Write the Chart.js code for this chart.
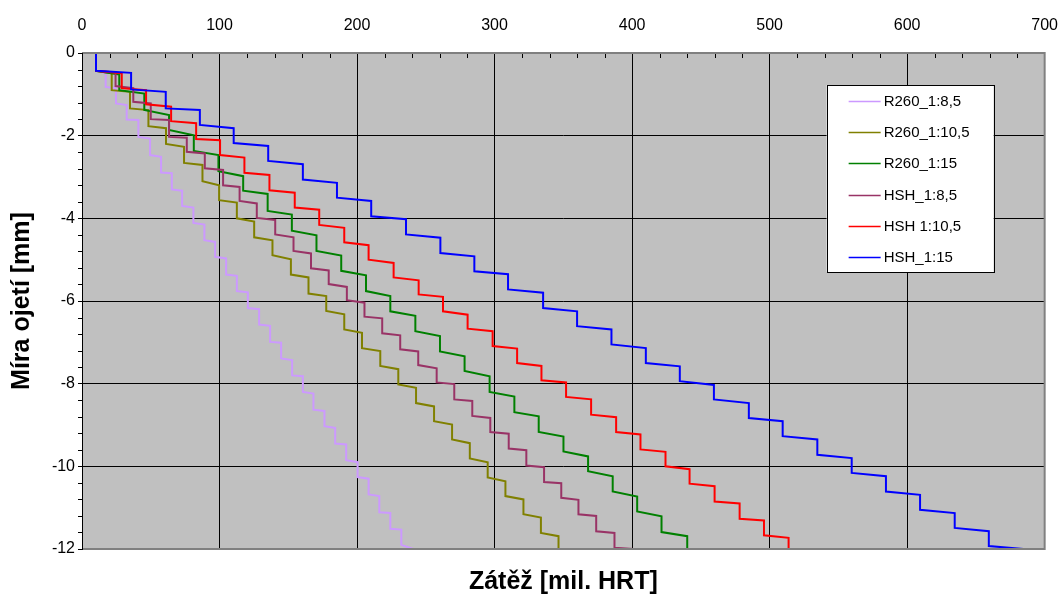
<!DOCTYPE html>
<html>
<head>
<meta charset="utf-8">
<script src="https://cdn.jsdelivr.net/npm/chart.js@4.4.0/dist/chart.umd.min.js"></script>
<style>
  html, body { margin: 0; padding: 0; background: #fff; }
</style>
</head>
<body>
<canvas id="chart" width="1060" height="597"></canvas>
<script>
// wear curves, [load (mil. HRT), wear (mm)] at each step corner
const r260_85 = [[0,0],[10.2,0],[10.2,-0.43],[17.2,-0.49],[17.2,-0.82],[24.7,-0.85],[24.7,-1.22],[32.5,-1.26],[32.5,-1.61],[41.0,-1.62],[41.0,-2.03],[49.5,-2.07],[49.5,-2.47],[57.5,-2.51],[57.5,-2.89],[65.3,-2.91],[65.3,-3.30],[72.8,-3.33],[72.8,-3.70],[81.0,-3.74],[81.0,-4.11],[89.0,-4.15],[89.0,-4.53],[96.8,-4.57],[96.8,-4.93],[104.8,-4.97],[104.8,-5.36],[112.6,-5.39],[112.6,-5.76],[120.6,-5.79],[120.6,-6.17],[128.8,-6.20],[128.8,-6.57],[136.8,-6.60],[136.8,-6.99],[144.8,-7.01],[144.8,-7.39],[152.8,-7.43],[152.8,-7.80],[160.6,-7.82],[160.6,-8.20],[168.3,-8.24],[168.3,-8.63],[176.3,-8.66],[176.3,-9.03],[184.1,-9.07],[184.1,-9.45],[192.1,-9.47],[192.1,-9.85],[200.4,-9.90],[200.4,-10.26],[208.4,-10.30],[208.4,-10.68],[216.2,-10.72],[216.2,-11.11],[224.2,-11.13],[224.2,-11.51],[232.2,-11.53],[232.2,-11.90],[240.9,-12.0]];

const r260_105 = [[0,0],[10.2,0],[10.2,-0.43],[21.6,-0.49],[21.6,-0.90],[34.9,-0.94],[34.9,-1.34],[48.3,-1.38],[48.3,-1.77],[61.1,-1.82],[61.1,-2.20],[74.2,-2.27],[74.2,-2.66],[87.6,-2.71],[87.6,-3.10],[99.7,-3.20],[99.7,-3.56],[112.6,-3.62],[112.6,-4.00],[125.2,-4.08],[125.2,-4.46],[138.5,-4.53],[138.5,-4.89],[151.9,-4.99],[151.9,-5.36],[164.7,-5.43],[164.7,-5.82],[177.6,-5.88],[177.6,-6.24],[190.7,-6.32],[190.7,-6.69],[203.6,-6.77],[203.6,-7.14],[216.9,-7.21],[216.9,-7.57],[230.0,-7.65],[230.0,-8.02],[242.9,-8.10],[242.9,-8.47],[256.0,-8.55],[256.0,-8.91],[269.1,-8.99],[269.1,-9.35],[282.0,-9.44],[282.0,-9.81],[295.0,-9.90],[295.0,-10.27],[307.9,-10.36],[307.9,-10.72],[321.0,-10.80],[321.0,-11.16],[333.7,-11.24],[333.7,-11.61],[346.5,-11.69],[346.5,-12.0]];

const r260_15 = [[0,0],[10.2,0],[10.2,-0.43],[27.1,-0.52],[27.1,-0.90],[45.3,-0.98],[45.3,-1.38],[63.3,-1.50],[63.3,-1.86],[81.3,-1.99],[81.3,-2.37],[99.2,-2.47],[99.2,-2.86],[117.2,-2.98],[117.2,-3.33],[135.0,-3.41],[135.0,-3.82],[152.6,-3.91],[152.6,-4.30],[170.5,-4.41],[170.5,-4.79],[188.5,-4.90],[188.5,-5.27],[206.5,-5.38],[206.5,-5.76],[224.2,-5.88],[224.2,-6.25],[242.4,-6.36],[242.4,-6.73],[260.3,-6.85],[260.3,-7.22],[278.2,-7.34],[278.2,-7.69],[296.4,-7.82],[296.4,-8.20],[314.4,-8.31],[314.4,-8.69],[332.1,-8.79],[332.1,-9.17],[350.1,-9.28],[350.1,-9.64],[368.0,-9.76],[368.0,-10.12],[385.9,-10.24],[385.9,-10.61],[403.7,-10.73],[403.7,-11.09],[421.4,-11.21],[421.4,-11.59],[440.1,-11.69],[440.1,-12.0]];

const hsh_85 = [[0,0],[10.2,0],[10.2,-0.43],[24.4,-0.47],[24.4,-0.80],[37.3,-0.85],[37.3,-1.18],[50.0,-1.22],[50.0,-1.60],[63.3,-1.62],[63.3,-2.03],[76.2,-2.05],[76.2,-2.39],[89.3,-2.43],[89.3,-2.79],[102.6,-2.83],[102.6,-3.20],[114.6,-3.24],[114.6,-3.58],[127.1,-3.64],[127.1,-3.99],[140.5,-4.04],[140.5,-4.39],[153.8,-4.46],[153.8,-4.79],[166.5,-4.85],[166.5,-5.21],[179.4,-5.26],[179.4,-5.59],[192.6,-5.66],[192.6,-5.98],[205.4,-6.04],[205.4,-6.38],[218.3,-6.42],[218.3,-6.78],[231.4,-6.83],[231.4,-7.17],[244.5,-7.22],[244.5,-7.55],[257.9,-7.63],[257.9,-7.97],[270.7,-8.01],[270.7,-8.38],[283.8,-8.42],[283.8,-8.78],[296.9,-8.83],[296.9,-9.17],[310.3,-9.21],[310.3,-9.57],[323.1,-9.61],[323.1,-9.98],[336.0,-10.02],[336.0,-10.38],[348.5,-10.41],[348.5,-10.76],[361.0,-10.81],[361.0,-11.16],[373.9,-11.20],[373.9,-11.57],[387.2,-11.61],[387.2,-11.97],[401.0,-12.0]];

const hsh_105 = [[0,0],[10.2,0],[10.2,-0.43],[28.9,-0.49],[28.9,-0.85],[46.6,-0.90],[46.6,-1.24],[64.8,-1.30],[64.8,-1.65],[83.0,-1.70],[83.0,-2.08],[100.4,-2.11],[100.4,-2.47],[118.1,-2.53],[118.1,-2.90],[136.3,-2.95],[136.3,-3.32],[154.7,-3.38],[154.7,-3.74],[172.5,-3.79],[172.5,-4.16],[190.7,-4.23],[190.7,-4.58],[208.4,-4.65],[208.4,-5.00],[226.6,-5.08],[226.6,-5.43],[244.8,-5.50],[244.8,-5.84],[262.5,-5.90],[262.5,-6.25],[280.4,-6.33],[280.4,-6.67],[298.6,-6.73],[298.6,-7.09],[316.4,-7.15],[316.4,-7.50],[334.1,-7.57],[334.1,-7.92],[352.0,-7.97],[352.0,-8.32],[370.2,-8.38],[370.2,-8.75],[388.4,-8.81],[388.4,-9.17],[406.1,-9.23],[406.1,-9.59],[424.3,-9.65],[424.3,-10.00],[441.8,-10.07],[441.8,-10.42],[460.0,-10.48],[460.0,-10.85],[478.2,-10.90],[478.2,-11.27],[495.9,-11.31],[495.9,-11.67],[513.8,-11.73],[513.8,-12.0]];

const hsh_15 = [[0,0],[10.2,0],[10.2,-0.43],[35.7,-0.48],[35.7,-0.88],[60.9,-0.94],[60.9,-1.34],[85.7,-1.38],[85.7,-1.74],[110.3,-1.82],[110.3,-2.18],[135.4,-2.25],[135.4,-2.61],[160.6,-2.69],[160.6,-3.06],[185.4,-3.14],[185.4,-3.50],[210.3,-3.58],[210.3,-3.95],[235.6,-4.02],[235.6,-4.39],[260.6,-4.47],[260.6,-4.84],[285.3,-4.92],[285.3,-5.28],[309.8,-5.35],[309.8,-5.72],[335.3,-5.80],[335.3,-6.17],[360.0,-6.25],[360.0,-6.61],[385.0,-6.69],[385.0,-7.05],[410.0,-7.14],[410.0,-7.50],[434.7,-7.58],[434.7,-7.94],[459.5,-8.03],[459.5,-8.38],[484.9,-8.47],[484.9,-8.83],[509.5,-8.91],[509.5,-9.27],[534.7,-9.35],[534.7,-9.72],[559.7,-9.80],[559.7,-10.16],[584.6,-10.24],[584.6,-10.61],[609.4,-10.69],[609.4,-11.05],[634.6,-11.13],[634.6,-11.49],[659.4,-11.57],[659.4,-11.93],[684.6,-12.0]];

const seriesNames = ["R260_1:8,5", "R260_1:10,5", "R260_1:15", "HSH_1:8,5", "HSH 1:10,5", "HSH_1:15"];
const seriesData = [r260_85, r260_105, r260_15, hsh_85, hsh_105, hsh_15];
const seriesColors = ["#cc99ff", "#808000", "#008000", "#993366", "#ff0000", "#0000ff"];

const xTitle = "Zátěž [mil. HRT]";
const yTitle = "Míra ojetí [mm]";

const FONT = "Arial, 'Liberation Sans', sans-serif";

// grey plot area
const plotBg = {
    id: "plotBg",
    beforeDraw(chart) {
        const { ctx, chartArea: a } = chart;
        ctx.save();
        ctx.fillStyle = "#c0c0c0";
        ctx.fillRect(a.left, a.top, a.right - a.left, a.bottom - a.top);
        ctx.restore();
    }
};

// minor ticks + frame
const minorTicks = {
    id: "minorTicks",
    afterDatasetsDraw(chart) {
        const { ctx, chartArea: a, scales: { x, y } } = chart;
        ctx.save();
        ctx.strokeStyle = "#000";
        ctx.lineWidth = 1;
        ctx.beginPath();
        for (let i = 1; i < 35; i++) {
            if (i % 5 === 0) continue;
            const px = Math.round(x.getPixelForValue(i * 20)) + 0.5;
            ctx.moveTo(px, a.top);
            ctx.lineTo(px, a.top + 5);
        }
        for (let i = 1; i < 30; i++) {
            if (i % 5 === 0) continue;
            const py = Math.round(y.getPixelForValue(-0.4 * i)) + 0.5;
            ctx.moveTo(a.left - 4, py);
            ctx.lineTo(a.left, py);
        }
        ctx.stroke();

        ctx.strokeStyle = "#808080";
        ctx.lineWidth = 2;
        ctx.beginPath();
        ctx.moveTo(a.left, a.top);
        ctx.lineTo(a.right, a.top);
        ctx.lineTo(a.right, a.bottom);
        ctx.lineTo(a.left, a.bottom);
        ctx.stroke();
        ctx.strokeStyle = "#000";
        ctx.lineWidth = 1;
        ctx.beginPath();
        ctx.moveTo(Math.round(a.left) + 0.5, a.top);
        ctx.lineTo(Math.round(a.left) + 0.5, a.bottom + 1);
        ctx.stroke();
        ctx.restore();
    }
};

// legend box inside plot
const boxLegend = {
    id: "boxLegend",
    afterDraw(chart) {
        const { ctx, chartArea: a } = chart;
        const left = a.right - 218, top = a.top + 32, w = 167, h = 187;
        ctx.save();
        ctx.fillStyle = "#fff";
        ctx.fillRect(left, top, w, h);
        ctx.strokeStyle = "#000";
        ctx.lineWidth = 1;
        ctx.strokeRect(Math.round(left) + 0.5, Math.round(top) + 0.5, w, h);
        ctx.font = "15px " + FONT;
        ctx.textBaseline = "middle";
        ctx.textAlign = "left";
        chart.data.datasets.forEach((ds, i) => {
            const cy = Math.round(top + 16 + i * 31.2) + 0.5;
            ctx.strokeStyle = ds.borderColor;
            ctx.lineWidth = 1.5;
            ctx.beginPath();
            ctx.moveTo(left + 22, cy);
            ctx.lineTo(left + 54, cy);
            ctx.stroke();
            ctx.fillStyle = "#000";
            ctx.fillText(ds.label, left + 57, cy);
        });
        ctx.restore();
    }
};

const ctx = document.getElementById("chart");

new Chart(ctx, {
    type: "scatter",
    data: {
        datasets: seriesNames.map((name, i) => ({
            label: name,
            data: seriesData[i],
            borderColor: seriesColors[i],
            backgroundColor: seriesColors[i],
            borderWidth: 2,
            showLine: true,
            pointRadius: 0,
            order: seriesNames.length - i
        }))
    },
    options: {
        responsive: false,
        animation: false,
        layout: { padding: 0 },
        plugins: {
            legend: { display: false },
            tooltip: { enabled: false },
            title: {
                display: true,
                text: xTitle,
                position: "bottom",
                fullSize: false,
                color: "#000",
                font: { family: FONT, size: 25, weight: "bold" },
                padding: { top: 18, bottom: 0 }
            }
        },
        scales: {
            x: {
                type: "linear",
                position: "top",
                min: 0,
                max: 700,
                ticks: { stepSize: 100, color: "#000", font: { family: FONT, size: 16 }, padding: 2, maxRotation: 0 },
                grid: { color: "#000", lineWidth: 1, drawTicks: true, tickLength: 16, tickColor: "rgba(0,0,0,0)" },
                border: { display: false },
                afterFit: (s) => { s.height = 53; }
            },
            y: {
                type: "linear",
                min: -12,
                max: 0,
                ticks: { stepSize: 2, color: "#000", font: { family: FONT, size: 16 }, padding: 3 },
                grid: { color: "#000", lineWidth: 1, tickLength: 4 },
                border: { display: false },
                title: {
                    display: true,
                    text: yTitle,
                    color: "#000",
                    font: { family: FONT, size: 25, weight: "bold" },
                    padding: { top: 7, bottom: 0 }
                },
                afterFit: (s) => { s.width = 82; }
            }
        }
    },
    plugins: [plotBg, minorTicks, boxLegend]
});
</script>
</body>
</html>
